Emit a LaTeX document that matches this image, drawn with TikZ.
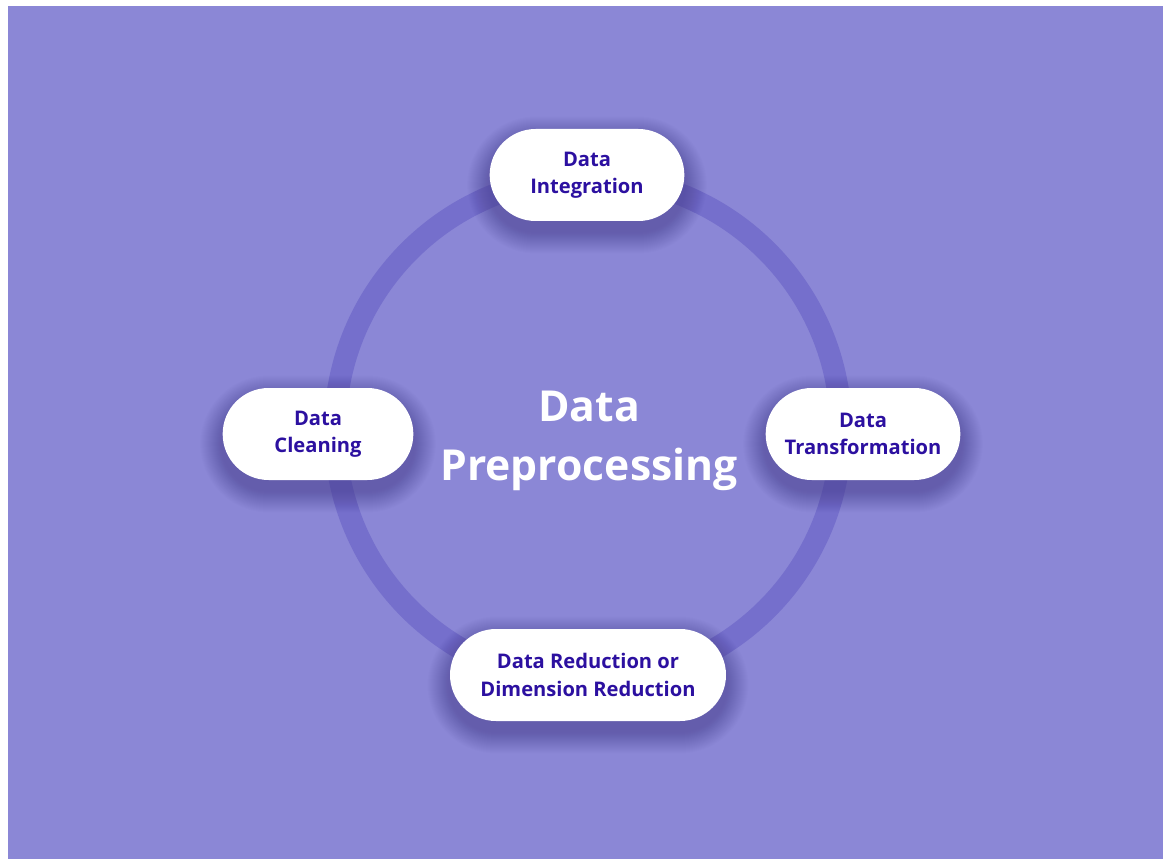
\documentclass[tikz,border=0pt]{standalone}
\usepackage{fontspec}
\setmainfont{Open Sans}
\usetikzlibrary{calc}
\definecolor{bgpurple}{HTML}{8B87D6}
\definecolor{ringpurple}{HTML}{756FCC}
\definecolor{txtblue}{HTML}{2C10A0}
\definecolor{shadowcol}{HTML}{2A2070}
\pgfdeclarelayer{bgl}
\pgfdeclarelayer{shl}
\pgfsetlayers{bgl,shl,main}
\tikzset{
  pill/.style={fill=white, rounded corners=34.5pt, minimum height=69pt,
    align=center, text=txtblue, font=\fontsize{15.1}{20.5}\selectfont\bfseries, inner sep=0pt},
  title/.style={align=center, text=white, font=\fontsize{32}{44}\selectfont\bfseries}
}
\newcommand{\pillshadow}[1]{%
  \foreach \i in {1,...,22}{%
    \fill[shadowcol, opacity=0.014, rounded corners=34.5pt+\i*0.75pt]
      ($(#1.north west)+(-\i,-\i+10)$) rectangle ($(#1.south east)+(\i,\i+10)$);
  }%
}
\begin{document}
\begin{tikzpicture}[x=0.75pt,y=-0.75pt]
\useasboundingbox (0,0) rectangle (1163,859);
\begin{pgfonlayer}{bgl}
\fill[white] (0,0) rectangle (1163,859);
\fill[bgpurple] (8,6) rectangle (1163,859);
\coordinate (c) at (588,430);
\draw[ringpurple, line width=16.5pt] (c) circle (253);
\end{pgfonlayer}

\node[pill, minimum width=146pt] (integ) at (587,175) {Data\\Integration};
\node[pill, minimum width=143pt] (clean) at (318,434) {Data\\Cleaning};
\node[pill, minimum width=146pt] (trans) at (863,434) {Data\\Transformation};
\node[pill, minimum width=207pt] (reduc) at (588,675) {Data Reduction or\\Dimension Reduction};
\node[title] (ttl) at (589,441) {Data\\Preprocessing};

\begin{pgfonlayer}{shl}
\pillshadow{integ}
\pillshadow{clean}
\pillshadow{trans}
\pillshadow{reduc}
\end{pgfonlayer}
\end{tikzpicture}
\end{document}
